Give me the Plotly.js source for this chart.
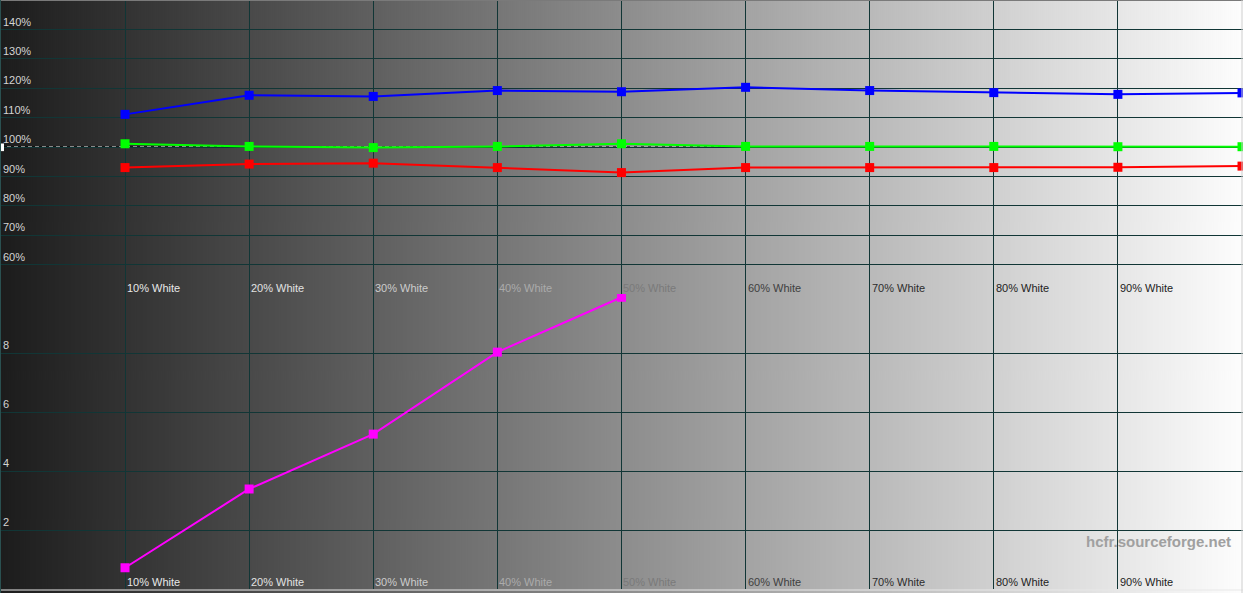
<!DOCTYPE html>
<html><head><meta charset="utf-8">
<script src="https://cdn.plot.ly/plotly-3.0.1.min.js"></script>
<style>html,body{margin:0;padding:0;background:#fff}#chart{width:1243px;height:593px}</style>
</head><body><div id="chart"></div>
<script>
// ---- data ----
const levels = [10, 20, 30, 40, 50, 60, 70, 80, 90, 100];
const levelLabels = ['10% White','20% White','30% White','40% White','50% White','60% White','70% White','80% White','90% White'];
const redLevel   = [93.0, 94.2, 94.5, 93.0, 91.3, 93.0, 93.0, 93.0, 93.1, 93.5];
const greenLevel = [101.1, 100.2, 99.8, 100.2, 101.1, 100.2, 100.2, 100.2, 100.1, 100.1];
const blueLevel  = [111.1, 117.6, 117.2, 119.2, 118.8, 120.3, 119.2, 118.5, 117.9, 118.4];
const deltaELevels = [10, 20, 30, 40, 50];
const deltaE = [0.72, 3.39, 5.25, 8.03, 9.89];
const rgbTickVals = [60, 70, 80, 90, 100, 110, 120, 130, 140];
const rgbTickText = ['60%','70%','80%','90%','100%','110%','120%','130%','140%'];
const deltaTickVals = [2, 4, 6, 8];
const deltaTickText = ['2','4','6','8'];
const watermark = 'hcfr.sourceforge.net';

// ---- style ----
const labelColors = ['#e8e8e8','#e2e2e2','#cccccc','#ababab','#7a7a7a','#404040','#2c2c2c','#222222','#1c1c1c'];
const gridColor = '#113636';
const W = 1243, H = 593;

// background gradient
const cv = document.createElement('canvas'); cv.width = W; cv.height = 4;
const ctx = cv.getContext('2d');
const grad = ctx.createLinearGradient(0, 0, W, 0);
grad.addColorStop(0, '#1c1c1c'); grad.addColorStop(1, '#fdfdfd');
ctx.fillStyle = grad; ctx.fillRect(0, 0, W, 4);
const bgUrl = cv.toDataURL();

const font = 'Liberation Sans, Arial, sans-serif';
const mk = (c) => ({symbol: 'square', size: 9, color: c});

const traces = [
  {x: levels, y: redLevel, xaxis: 'x', yaxis: 'y2', mode: 'lines+markers', line: {color: '#ff0000', width: 2}, marker: mk('#ff0000'), hoverinfo: 'skip'},
  {x: levels, y: greenLevel, xaxis: 'x', yaxis: 'y2', mode: 'lines+markers', line: {color: '#00ff00', width: 2}, marker: mk('#00ff00'), hoverinfo: 'skip'},
  {x: levels, y: blueLevel, xaxis: 'x', yaxis: 'y2', mode: 'lines+markers', line: {color: '#0000ff', width: 2}, marker: mk('#0000ff'), hoverinfo: 'skip'},
  {x: deltaELevels, y: deltaE, xaxis: 'x', yaxis: 'y', mode: 'lines+markers', line: {color: '#ff00ff', width: 2}, marker: mk('#ff00ff'), hoverinfo: 'skip'}
];

const annotations = [];
levelLabels.forEach((t, i) => {
  [1 - 288 / H, 1 - 582 / H].forEach(yy => {
    annotations.push({x: levels[i], xref: 'x', y: yy, yref: 'paper', text: t, showarrow: false,
      xanchor: 'left', yanchor: 'middle', xshift: 0, font: {family: font, size: 11, color: labelColors[i]}});
  });
});
annotations.push({x: 1 - 10 / W, xref: 'paper', y: 1 - 541 / H, yref: 'paper', text: '<b>' + watermark + '</b>', showarrow: false,
  xanchor: 'right', yanchor: 'middle', font: {family: font, size: 15, color: '#a0a0a0'}});

const shapes = [
  {type: 'line', layer: 'between', xref: 'paper', x0: 0, x1: 1, yref: 'y2', y0: 100, y1: 100, line: {color: '#000000', width: 1}},
  {type: 'line', layer: 'between', xref: 'paper', x0: 0, x1: 1, yref: 'y2', y0: 100, y1: 100, line: {color: '#ffffff', width: 1, dash: '4px,3px'}},
  {type: 'rect', xref: 'paper', x0: 0, x1: 4 / W, yref: 'y2', y0: 98.6, y1: 101.2, fillcolor: '#ffffff', line: {width: 0}},
  {type: 'line', xref: 'paper', yref: 'paper', x0: 0, x1: 1, y0: 1, y1: 1, line: {color: '#7a7a7a', width: 2}},
  {type: 'line', xref: 'paper', yref: 'paper', x0: 0, x1: 1, y0: 3 / H, y1: 3 / H, line: {color: '#e8e8e8', width: 1}},
  {type: 'line', xref: 'paper', yref: 'paper', x0: 0.5 / W, x1: 0.5 / W, y0: 0, y1: 1, line: {color: '#2a5050', width: 1}},
  {type: 'line', xref: 'paper', yref: 'paper', x0: 1 - 1 / W, x1: 1 - 1 / W, y0: 0, y1: 1, line: {color: '#cfcfcf', width: 1}}
];

const layout = {
  width: W, height: H,
  margin: {l: 0, r: 0, t: 0, b: 0, pad: 0},
  paper_bgcolor: '#ffffff', plot_bgcolor: 'rgba(0,0,0,0)',
  showlegend: false,
  images: [{source: bgUrl, xref: 'paper', yref: 'paper', x: 0, y: 1, sizex: 1, sizey: 1, sizing: 'stretch', xanchor: 'left', yanchor: 'top', layer: 'below'}],
  xaxis: {range: [-0.073, 100.08], tickvals: levels.slice(0, 9), showticklabels: false, showgrid: true, gridcolor: gridColor, gridwidth: 1,
    zeroline: false, showline: false, ticks: '', anchor: 'y', fixedrange: true},
  yaxis: {domain: [4 / H, 299 / H], range: [0, 10], tickvals: deltaTickVals, ticktext: deltaTickText, ticklabelposition: 'inside top',
    tickfont: {family: font, size: 11, color: '#d4d4d4'}, showgrid: true, gridcolor: gridColor, zeroline: false, showline: false, ticks: '', fixedrange: true},
  yaxis2: {domain: [299 / H, 1], range: [50, 150], tickvals: rgbTickVals, ticktext: rgbTickText, ticklabelposition: 'inside top', anchor: 'x',
    tickfont: {family: font, size: 11, color: '#d4d4d4'}, showgrid: true, gridcolor: gridColor, zeroline: false, showline: false, ticks: '', fixedrange: true},
  annotations: annotations,
  shapes: shapes
};

Plotly.newPlot('chart', traces, layout, {staticPlot: true, displayModeBar: false});
</script>
</body></html>
